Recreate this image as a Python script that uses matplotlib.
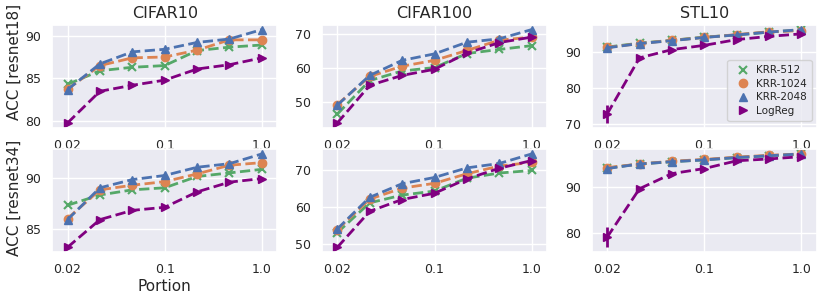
import matplotlib
matplotlib.use("Agg")
import matplotlib.pyplot as plt
import seaborn as sns
from matplotlib.lines import Line2D

sns.set_theme(style="darkgrid")
plt.rcParams['font.family'] = ['DejaVu Sans']

# x-axis: 7 equally spaced portions, only three labelled
tick_pos = [0, 3, 6]
tick_labels = ["0.02", "0.1", "1.0"]

datasets = ["CIFAR10", "CIFAR100", "STL10"]
backbones = ["resnet18", "resnet34"]

# resnet18
c10_r18_krr512 = [84.3, 85.9, 86.3, 86.5, 88.25, 88.65, 88.9]
c10_r18_krr1024 = [83.75, 86.5, 87.4, 87.5, 88.3, 89.5, 89.5]
c10_r18_krr2048 = [83.7, 86.7, 88.1, 88.4, 89.2, 89.6, 90.7]
c10_r18_logreg = [79.8, 83.5, 84.2, 84.8, 86.1, 86.6, 87.4]

c100_r18_krr512 = [46.6, 56.4, 59.2, 60.2, 64.3, 65.5, 66.6]
c100_r18_krr1024 = [49.4, 57.6, 60.6, 62.3, 65.2, 68.2, 69.1]
c100_r18_krr2048 = [49.2, 57.9, 62.3, 64.2, 67.6, 68.6, 71.3]
c100_r18_logreg = [44.0, 55.0, 57.9, 59.7, 64.4, 67.5, 69.1]

stl_r18_krr512 = [91.4, 92.5, 93.3, 94.2, 94.8, 95.6, 96.2]
stl_r18_krr1024 = [91.3, 92.4, 93.3, 94.1, 94.9, 95.7, 96.0]
stl_r18_krr2048 = [91.2, 92.4, 93.2, 94.1, 94.8, 95.6, 96.3]
stl_r18_logreg = [72.7, 88.4, 90.7, 91.9, 93.5, 94.4, 95.1]
stl_r18_logreg_err = [2.5, 0, 0, 0, 0, 0, 0]

# resnet34
c10_r34_krr512 = [87.3, 88.3, 88.8, 89.0, 90.1, 90.45, 90.8]
c10_r34_krr1024 = [86.0, 88.8, 89.25, 89.6, 90.35, 91.2, 91.45]
c10_r34_krr2048 = [85.9, 89.0, 89.8, 90.2, 91.0, 91.35, 92.3]
c10_r34_logreg = [83.2, 85.9, 86.8, 87.1, 88.6, 89.55, 89.9]

c100_r34_krr512 = [53.0, 61.1, 63.2, 64.3, 67.8, 69.2, 69.9]
c100_r34_krr1024 = [53.8, 62.1, 65.1, 66.4, 69.0, 71.1, 72.1]
c100_r34_krr2048 = [54.0, 62.6, 66.3, 68.0, 70.6, 71.8, 74.4]
c100_r34_logreg = [49.0, 58.8, 62.0, 63.7, 67.6, 70.5, 72.6]

stl_r34_krr512 = [94.1, 95.0, 95.5, 95.9, 96.4, 96.8, 97.1]
stl_r34_krr1024 = [94.2, 95.0, 95.6, 96.0, 96.5, 96.9, 97.2]
stl_r34_krr2048 = [94.0, 95.0, 95.5, 95.9, 96.4, 96.8, 97.2]
stl_r34_logreg = [79.0, 89.6, 92.9, 94.0, 95.7, 96.1, 96.6]
stl_r34_logreg_err = [2.2, 0, 0, 0, 0, 0, 0]

zeros = [0] * 7
results = {
    ("resnet18", "CIFAR10"): [c10_r18_krr512, c10_r18_krr1024, c10_r18_krr2048, c10_r18_logreg, zeros],
    ("resnet18", "CIFAR100"): [c100_r18_krr512, c100_r18_krr1024, c100_r18_krr2048, c100_r18_logreg, zeros],
    ("resnet18", "STL10"): [stl_r18_krr512, stl_r18_krr1024, stl_r18_krr2048, stl_r18_logreg, stl_r18_logreg_err],
    ("resnet34", "CIFAR10"): [c10_r34_krr512, c10_r34_krr1024, c10_r34_krr2048, c10_r34_logreg, zeros],
    ("resnet34", "CIFAR100"): [c100_r34_krr512, c100_r34_krr1024, c100_r34_krr2048, c100_r34_logreg, zeros],
    ("resnet34", "STL10"): [stl_r34_krr512, stl_r34_krr1024, stl_r34_krr2048, stl_r34_logreg, stl_r34_logreg_err],
}

names = ["KRR-512", "KRR-1024", "KRR-2048", "LogReg"]
colors = ["#55A868", "#DD8452", "#4C72B0", "purple"]
markers = ["x", "o", "^", ">"]
ylabel_y = [0.64, 0.53]

fig, axes = plt.subplots(2, 3, figsize=(8.3, 3.0), dpi=100)
plt.subplots_adjust(left=0.063, right=0.984, top=0.917, bottom=0.16, hspace=0.21, wspace=0.2)

for i, bb in enumerate(backbones):
    for j, ds in enumerate(datasets):
        ax = axes[i, j]
        series = results[(bb, ds)]
        x = list(range(len(series[0])))
        for k in range(4):
            ax.plot(x, series[k], linestyle="--", linewidth=2, color=colors[k],
                    marker=markers[k], markersize=6, markeredgewidth=1.5 if k == 0 else 1)
        ax.errorbar(x, series[3], yerr=series[4], fmt="none", ecolor="purple", elinewidth=2)
        ax.set_xticks(tick_pos)
        ax.set_xticklabels(tick_labels)
        ax.set_xlim(-0.47, 6.47)
        ax.tick_params(labelsize=9, pad=2)
        if i == 0:
            ax.set_title(ds, fontsize=11.5, pad=5)
        if j == 0:
            ax.set_ylabel("ACC [%s]" % bb, fontsize=11)
            ax.yaxis.set_label_coords(-0.135, ylabel_y[i])
        if i == 1 and j == 0:
            ax.set_xlabel("Portion", fontsize=11, labelpad=2)

handles = [Line2D([], [], linestyle="none", color=colors[k], marker=markers[k], markersize=6,
                  markeredgewidth=1.5 if k == 0 else 1) for k in range(4)]
axes[0, 2].legend(handles, names, loc="center right", fontsize=7.5, handletextpad=0.2,
                  bbox_to_anchor=(1.0, 0.36), borderpad=0.5, labelspacing=0.35)

fig.savefig("out.png")
